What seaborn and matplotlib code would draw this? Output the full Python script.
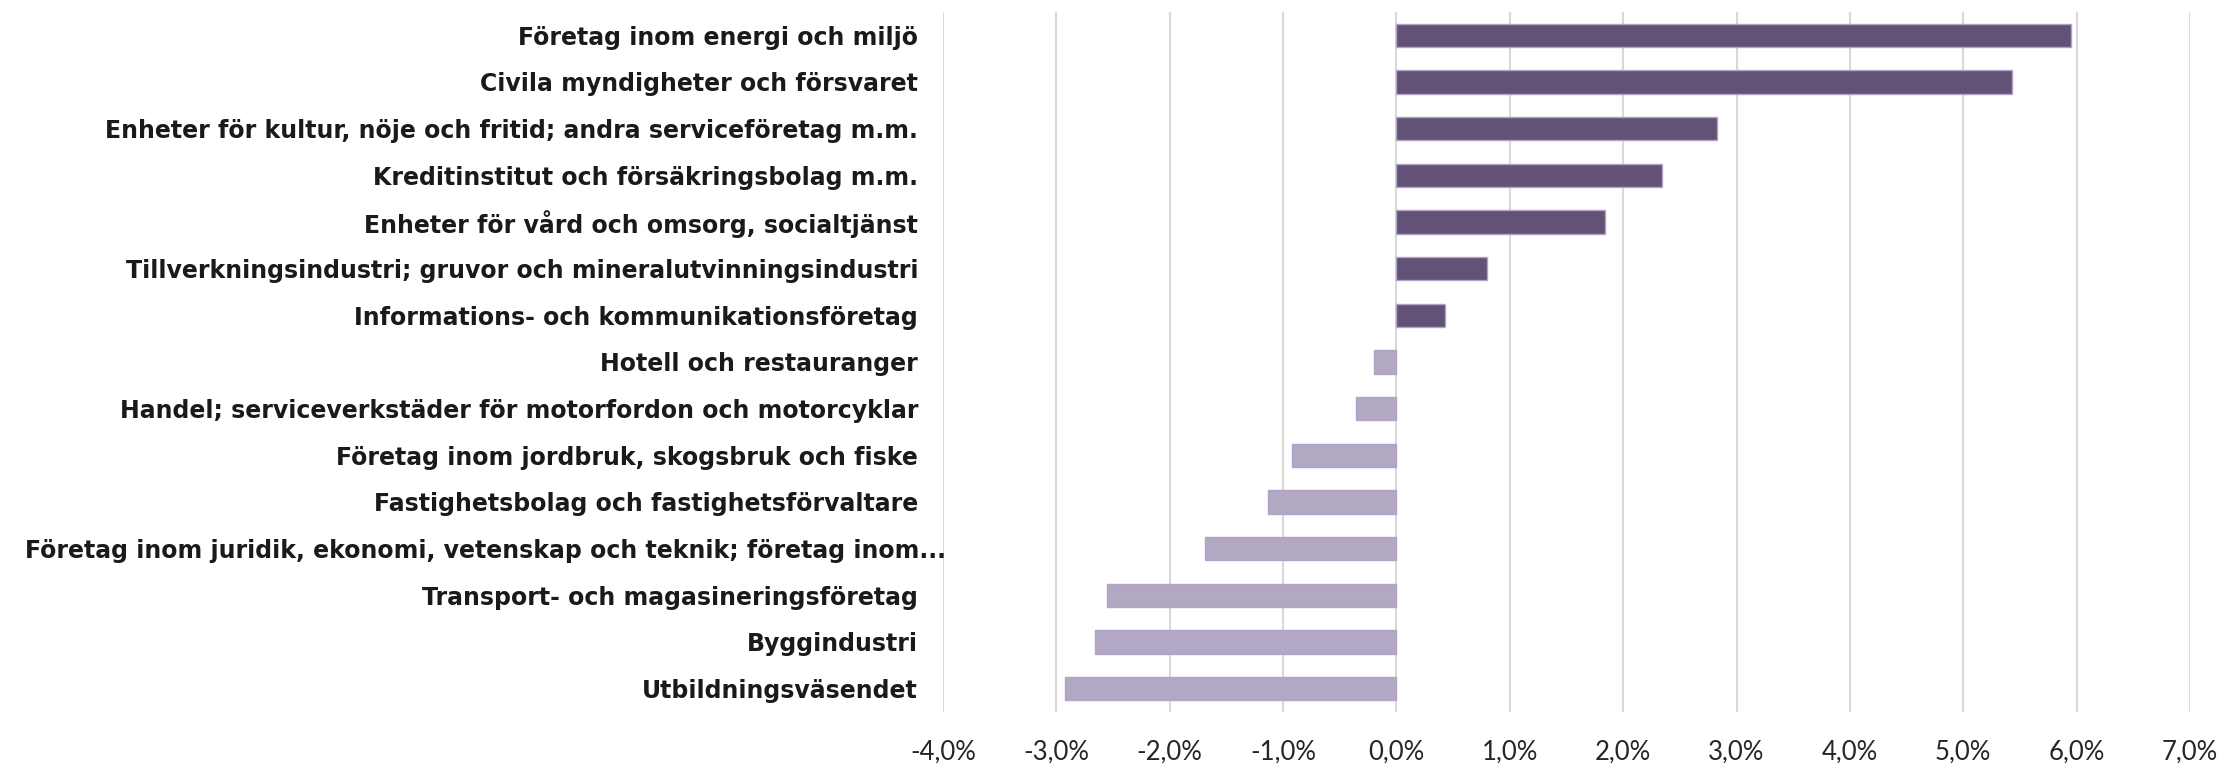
import pandas as pd
import seaborn as sns
import matplotlib.pyplot as plt
from matplotlib.ticker import FuncFormatter, MultipleLocator
from matplotlib.transforms import ScaledTranslation

Branscher = [
    "Företag inom energi och miljö",
    "Civila myndigheter och försvaret",
    "Enheter för kultur, nöje och fritid; andra serviceföretag m.m.",
    "Kreditinstitut och försäkringsbolag m.m.",
    "Enheter för vård och omsorg, socialtjänst",
    "Tillverkningsindustri; gruvor och mineralutvinningsindustri",
    "Informations- och kommunikationsföretag",
    "Hotell och restauranger",
    "Handel; serviceverkstäder för motorfordon och motorcyklar",
    "Företag inom jordbruk, skogsbruk och fiske",
    "Fastighetsbolag och fastighetsförvaltare",
    "Företag inom juridik, ekonomi, vetenskap och teknik; företag inom...",
    "Transport- och magasineringsföretag",
    "Byggindustri",
    "Utbildningsväsendet",
]
Forandring = [0.0595, 0.0543, 0.0283, 0.0234, 0.0184, 0.0080, 0.0043,
              -0.0020, -0.0036, -0.0092, -0.0113, -0.0169, -0.0255, -0.0266, -0.0292]

Dark = "#604C7C"
Light = "#B1A3C8"

Data = pd.DataFrame({"bransch": Branscher, "andel": Forandring})
Colors = [Dark if v >= 0 else Light for v in Forandring]

sns.set_style("white")
plt.rcParams['font.family'] = ['DejaVu Sans']

fig = plt.figure(figsize=(22.22, 7.63), dpi=100)
ax = fig.add_axes([943 / 2222, 1 - 712 / 763, (2190 - 943) / 2222, 700 / 763])

sns.barplot(data=Data, x="andel", y="bransch", hue="bransch", palette=Colors,
            orient="h", width=0.5, edgecolor=Light, linewidth=1, legend=False, ax=ax)

ax.set_xlim(-0.04, 0.07)
ax.set_ylim(14.5, -0.5)
ax.xaxis.set_major_locator(MultipleLocator(0.01))
ax.xaxis.set_major_formatter(FuncFormatter(lambda v, p: f"{v * 100:.1f}%".replace(".", ",").replace("-0,0", "0,0")))
ax.grid(axis="x", color="#D9D9D9", linewidth=1.5)
ax.set_axisbelow(True)
for s in ax.spines.values():
    s.set_visible(False)
ax.set_xlabel("")
ax.set_ylabel("")
ax.tick_params(axis="x", length=0, pad=20, labelcolor="#262626")
ax.tick_params(axis="y", length=0, pad=18)
for lbl in ax.get_xticklabels():
    lbl.set_fontsize(18.5)
    lbl.set_fontfamily(["Lato", "DejaVu Sans"])
for lbl in ax.get_yticklabels():
    lbl.set_fontsize(17)
    lbl.set_fontweight("bold")
    lbl.set_color("#1A1A1A")
    # the truncated label sticks out a bit further right, like in the original
    if lbl.get_text().endswith("..."):
        lbl.set_transform(lbl.get_transform() + ScaledTranslation(0.28, 0, fig.dpi_scale_trans))

fig.savefig("out.png", dpi=100)
